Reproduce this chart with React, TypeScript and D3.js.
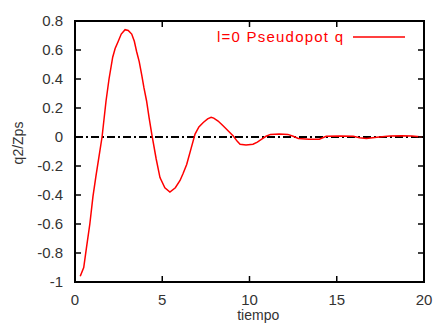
import React, { useEffect, useRef } from 'react';
import * as d3 from 'd3';

// tiempo vs q2/Zps
const tiempo = [0.3, 0.5, 0.65, 0.85, 1.03, 1.2, 1.33, 1.55, 1.78, 1.95, 2.16, 2.3, 2.48, 2.65, 2.87, 3.05, 3.25, 3.4, 3.53, 3.68, 3.82, 3.95, 4.1, 4.25, 4.4, 4.65, 4.87, 5.15, 5.44, 5.75, 6.02, 6.2, 6.4, 6.65, 6.88, 7.1, 7.35, 7.6, 7.8, 7.95, 8.2, 8.5, 8.8, 9.07, 9.3, 9.46, 9.8, 10.2, 10.45, 10.7, 10.95, 11.2, 11.7, 12.2, 12.5, 12.8, 13.4, 14.0, 14.4, 15.2, 15.95, 16.3, 16.7, 17.3, 18.05, 18.7, 19.3, 19.9];
const q = [-0.96, -0.9, -0.77, -0.6, -0.41, -0.27, -0.17, 0.0, 0.25, 0.4, 0.55, 0.61, 0.66, 0.71, 0.74, 0.735, 0.71, 0.66, 0.59, 0.52, 0.43, 0.34, 0.25, 0.13, 0.02, -0.15, -0.28, -0.35, -0.38, -0.35, -0.3, -0.25, -0.19, -0.08, 0.02, 0.07, 0.1, 0.125, 0.136, 0.13, 0.11, 0.076, 0.04, 0.007, -0.03, -0.05, -0.055, -0.05, -0.035, -0.015, 0.005, 0.018, 0.02, 0.018, 0.005, -0.01, -0.015, -0.015, 0.005, 0.007, 0.005, -0.005, -0.01, -0.002, 0.007, 0.008, 0.007, 0.0];
const xTicks = [0, 5, 10, 15, 20];
const yTicks = [-1, -0.8, -0.6, -0.4, -0.2, 0, 0.2, 0.4, 0.6, 0.8];
const legendLabel = 'l=0 Pseudopot q';

export default function App() {
  const svgRef = useRef<SVGSVGElement>(null);

  useEffect(() => {
    if (!svgRef.current) return;
    const width = 435;
    const height = 325;
    const margin = { top: 21, right: 11, bottom: 43, left: 75 };
    const innerWidth = width - margin.left - margin.right;
    const innerHeight = height - margin.top - margin.bottom;

    const svg = d3.select(svgRef.current);
    svg.selectAll('*').remove();

    const g = svg.append('g')
      .attr('transform', `translate(${margin.left},${margin.top})`);

    const x = d3.scaleLinear().domain([0, 20]).range([0, innerWidth]);
    const y = d3.scaleLinear().domain([-1, 0.8]).range([innerHeight, 0]);

    const font = '"Liberation Sans", Arial, sans-serif';

    // zero line, dash-dot
    g.append('line')
      .attr('x1', 0)
      .attr('x2', innerWidth)
      .attr('y1', y(0))
      .attr('y2', y(0))
      .attr('stroke', '#000')
      .attr('stroke-width', 2)
      .attr('stroke-dasharray', '8,3,2,3');

    // curve
    const points = tiempo.map((t, i) => [t, q[i]] as [number, number]);
    const line = d3.line<[number, number]>()
      .x(d => x(d[0]))
      .y(d => y(d[1]));

    g.append('path')
      .datum(points)
      .attr('d', line)
      .attr('fill', 'none')
      .attr('stroke', '#ff0000')
      .attr('stroke-width', 1.5);

    // ticks, mirrored inside on all sides
    const tickLen = 6;
    xTicks.forEach(t => {
      if (t > 0 && t < 20) {
        g.append('line').attr('x1', x(t)).attr('x2', x(t))
          .attr('y1', innerHeight).attr('y2', innerHeight - tickLen)
          .attr('stroke', '#000').attr('stroke-width', 1.5);
        g.append('line').attr('x1', x(t)).attr('x2', x(t))
          .attr('y1', 0).attr('y2', tickLen)
          .attr('stroke', '#000').attr('stroke-width', 1.5);
      }
      g.append('text')
        .attr('x', x(t))
        .attr('y', innerHeight + 23)
        .attr('text-anchor', 'middle')
        .attr('font-family', font)
        .attr('font-size', 15)
        .attr('fill', '#333')
        .text(t);
    });

    yTicks.forEach(v => {
      if (v > -1 && v < 0.8) {
        g.append('line').attr('x1', 0).attr('x2', tickLen)
          .attr('y1', y(v)).attr('y2', y(v))
          .attr('stroke', '#000').attr('stroke-width', 1.5);
        g.append('line').attr('x1', innerWidth).attr('x2', innerWidth - tickLen)
          .attr('y1', y(v)).attr('y2', y(v))
          .attr('stroke', '#000').attr('stroke-width', 1.5);
      }
      g.append('text')
        .attr('x', -12)
        .attr('y', y(v))
        .attr('dy', '0.35em')
        .attr('text-anchor', 'end')
        .attr('font-family', font)
        .attr('font-size', 15)
        .attr('fill', '#333')
        .text(String(v));
    });

    // frame
    g.append('rect')
      .attr('width', innerWidth)
      .attr('height', innerHeight)
      .attr('fill', 'none')
      .attr('stroke', '#000')
      .attr('stroke-width', 2);

    // axis labels
    svg.append('text')
      .attr('x', margin.left + x(10.5))
      .attr('y', 320)
      .attr('text-anchor', 'middle')
      .attr('font-family', font)
      .attr('font-size', 14)
      .attr('fill', '#333')
      .text('tiempo');

    svg.append('text')
      .attr('transform', 'translate(23,143) rotate(-90)')
      .attr('text-anchor', 'middle')
      .attr('font-family', font)
      .attr('font-size', 14)
      .attr('fill', '#333')
      .text('q2/Zps');

    // legend
    svg.append('text')
      .attr('x', 217)
      .attr('y', 37)
      .attr('dy', '0.35em')
      .attr('textLength', 126)
      .attr('lengthAdjust', 'spacing')
      .attr('font-family', font)
      .attr('font-size', 15)
      .attr('fill', '#ff0000')
      .text(legendLabel);

    svg.append('line')
      .attr('x1', 353).attr('x2', 405)
      .attr('y1', 37).attr('y2', 37)
      .attr('stroke', '#ff0000')
      .attr('stroke-width', 1.5);
  }, []);

  return (
    <svg
      ref={svgRef}
      width={435}
      height={325}
      style={{ position: 'absolute', left: 0, top: 0, background: '#fff' }}
    />
  );
}
